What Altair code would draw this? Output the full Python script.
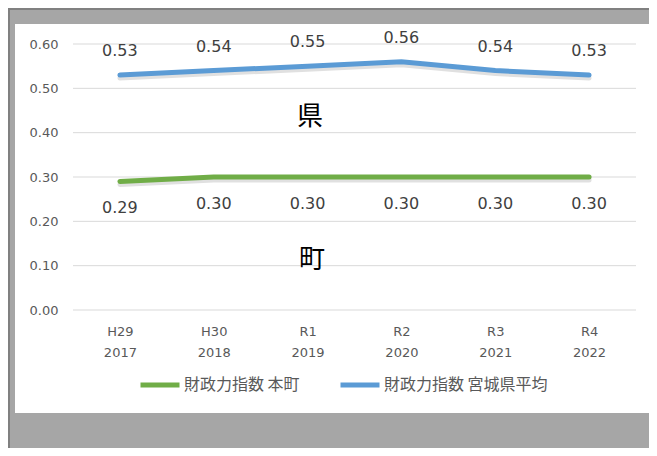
import altair as alt
import pandas as pd

eras = ["H29", "H30", "R1", "R2", "R3", "R4"]
years = ["2017", "2018", "2019", "2020", "2021", "2022"]
town = [0.29, 0.30, 0.30, 0.30, 0.30, 0.30]
pref = [0.53, 0.54, 0.55, 0.56, 0.54, 0.53]
series = ["財政力指数 本町", "財政力指数 宮城県平均"]
colors = ["#70AD47", "#5B9BD5"]
yticks = [0.0, 0.1, 0.2, 0.3, 0.4, 0.5, 0.6]
notes = ["県", "町"]

cats = [f"{e}|{y}" for e, y in zip(eras, years)]
df_town = pd.DataFrame({"cat": cats, "series": series[0], "v": town})
df_pref = pd.DataFrame({"cat": cats, "series": series[1], "v": pref})
df_all = pd.concat([df_town, df_pref], ignore_index=True)
df_grid = pd.DataFrame({"v": yticks})
one = pd.DataFrame({"a": [0]})

W, H = 563, 266
FONT = "DejaVu Sans"
JFONT = "Noto Sans CJK JP"

xenc = alt.X("cat:N", sort=cats, scale=alt.Scale(type="point", padding=0.5),
             axis=alt.Axis(labelExpr="split(datum.label, '|')", labelLineHeight=21,
                           labelPadding=15, ticks=False, domain=False, grid=False,
                           labelAngle=0, labelFont=FONT, labelFontSize=13,
                           labelColor="#595959", title=None, zindex=1))
yscale = alt.Scale(domain=[0, 0.6])
yaxis = alt.Axis(values=yticks, format=".2f", ticks=False, domain=False,
                 grid=False, labelPadding=15, labelFont=FONT, labelFontSize=13,
                 labelColor="#595959", title=None, zindex=1)
yenc = alt.Y("v:Q", scale=yscale, axis=yaxis)

light = alt.Chart(one).mark_rect(color="#a6a6a6").encode(
    x=alt.value(-63), x2=alt.value(576), y=alt.value(-34), y2=alt.value(404))
white = alt.Chart(one).mark_rect(color="#ffffff").encode(
    x=alt.value(-58), x2=alt.value(576), y=alt.value(-20), y2=alt.value(369))

grid = alt.Chart(df_grid).mark_rule(color="#d9d9d9", strokeWidth=1).encode(
    y=yenc, x=alt.value(0), x2=alt.value(W))

shadow = alt.Chart(df_all).mark_line(color="#000000", opacity=0.12, strokeWidth=5,
                                     yOffset=3, strokeCap="round").encode(
    x=xenc, y=yenc, detail="series:N")

lines = alt.Chart(df_all).mark_line(strokeWidth=5, strokeCap="round").encode(
    x=xenc, y=yenc,
    color=alt.Color("series:N", scale=alt.Scale(domain=series, range=colors),
                    legend=alt.Legend(title=None, orient="none", legendX=65, legendY=319,
                                      direction="horizontal", symbolType="stroke",
                                      symbolSize=1521, symbolStrokeWidth=5,
                                      labelFont=JFONT, labelFontSize=16, labelLimit=0,
                                      labelColor="#595959", labelOffset=2,
                                      columnPadding=30, padding=0)))

lab_pref = alt.Chart(df_pref).mark_text(font=FONT, fontSize=16, color="#404040",
                                        dy=-24).encode(x=xenc, y=yenc, text=alt.Text("v:Q", format=".2f"))
lab_town = alt.Chart(df_town).mark_text(font=FONT, fontSize=16, color="#404040",
                                        dy=27).encode(x=xenc, y=yenc, text=alt.Text("v:Q", format=".2f"))

note1 = alt.Chart(one).mark_text(font=JFONT, fontSize=26, color="#000000").encode(
    x=alt.value(237), y=alt.value(73), text=alt.value(notes[0]))
note2 = alt.Chart(one).mark_text(font=JFONT, fontSize=26, color="#000000").encode(
    x=alt.value(239), y=alt.value(216), text=alt.value(notes[1]))

chart = alt.layer(light, white, grid, shadow, lines, lab_pref, lab_town, note1, note2).properties(
    width=W, height=H,
    autosize=alt.AutoSizeParams(type="none"),
    padding={"left": 65, "top": 36, "right": 13, "bottom": 138},
    background="#808080",
).configure_view(strokeWidth=0)

chart.save("out.html", embed_options={"renderer": "svg", "actions": False})
